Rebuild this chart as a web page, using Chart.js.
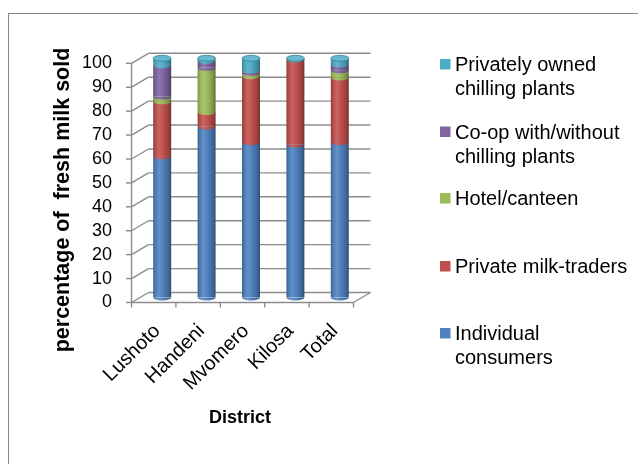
<!DOCTYPE html>
<html>
<head>
<meta charset="utf-8">
<script src="https://cdn.jsdelivr.net/npm/chart.js@4.4.1/dist/chart.umd.min.js"></script>
<style>
  html, body { margin: 0; padding: 0; background: #fff; }
  canvas { display: block; }
</style>
</head>
<body>
<canvas id="c" width="638" height="464"></canvas>
<script>
// Districts along the category axis
const districts = ['Lushoto', 'Handeni', 'Mvomero', 'Kilosa', 'Total'];

// Share of fresh milk sold (%) per outlet, stacked bottom to top
const individualConsumers   = [59, 71.5, 65, 64, 65];
const privateMilkTraders    = [23, 6, 27.5, 35.5, 27];
const hotelCanteen          = [2, 18.5, 1.5, 0, 3];
const coopChillingPlants    = [13, 3, 1, 0, 2.5];
const privateChillingPlants = [3, 1, 5, 0.5, 2.5];

const yTicks = [0, 10, 20, 30, 40, 50, 60, 70, 80, 90, 100];

const seriesNames = [
  'Individual consumers',
  'Private milk-traders',
  'Hotel/canteen',
  'Co-op with/without chilling plants',
  'Privately owned chilling plants'
];
const seriesValues = [individualConsumers, privateMilkTraders, hotelCanteen, coopChillingPlants, privateChillingPlants];
const seriesColors = ['#4F81BD', '#C0504D', '#9BBB59', '#8064A2', '#4BACC6'];

const yTitle = 'percentage of  fresh milk sold';
const xTitle = 'District';

const FONT = '"Liberation Sans", Arial, Helvetica, sans-serif';
Chart.defaults.font.family = FONT;

// depth offsets of the pseudo-3D box (front face vs. back wall)
const DX = 8.5, DY = 5, RY = 3;
const GRID = '#8c8c8c';
const CAT_PCT = 0.9, BAR_PCT = 0.45;

function rgb(hex) {
  const n = parseInt(hex.slice(1), 16);
  return [(n >> 16) & 255, (n >> 8) & 255, n & 255];
}
function shade(hex, f) {
  const c = rgb(hex).map(v => f >= 1 ? Math.round(v + (255 - v) * (f - 1)) : Math.round(v * f));
  return `rgb(${c[0]},${c[1]},${c[2]})`;
}
function cylinderGradient(ctx, x, w, hex) {
  const g = ctx.createLinearGradient(x - w / 2, 0, x + w / 2, 0);
  g.addColorStop(0, shade(hex, 0.75));
  g.addColorStop(0.12, shade(hex, 0.95));
  g.addColorStop(0.32, shade(hex, 1.12));
  g.addColorStop(0.55, shade(hex, 1.0));
  g.addColorStop(0.85, shade(hex, 0.8));
  g.addColorStop(1, shade(hex, 0.6));
  return g;
}
function barWidthFor(chart) {
  const xs = chart.scales.x;
  return xs.width / districts.length * CAT_PCT * BAR_PCT;
}

function line(ctx, x1, y1, x2, y2) {
  ctx.beginPath(); ctx.moveTo(x1, y1); ctx.lineTo(x2, y2); ctx.stroke();
}

// Walls, floor and grid of the 3-D box, drawn behind the columns
const box3d = {
  id: 'box3d',
  beforeDatasetsDraw(chart) {
    const { ctx, chartArea: a, scales: { y } } = chart;
    const fx = a.left - DX, bx = a.left + DX, rx = a.right + DX;
    ctx.save();
    ctx.strokeStyle = GRID;
    ctx.lineWidth = 1.4;
    yTicks.forEach(v => {
      const m = y.getPixelForValue(v);
      const fy = m + DY, by = m - DY;
      line(ctx, bx, by, rx, by);
      line(ctx, fx, fy, bx, by);
      line(ctx, fx - 5.5, fy, fx, fy);
    });
    const f0 = y.getPixelForValue(0) + DY;
    const f100 = y.getPixelForValue(100) + DY;
    line(ctx, fx, f0, fx, f100);
    const frx = a.right - DX;
    line(ctx, fx, f0, frx, f0);
    line(ctx, frx, f0, rx, f0 - 2 * DY);
    const step = (a.right - a.left) / districts.length;
    for (let k = 0; k <= districts.length; k++) {
      const xk = fx + k * step;
      line(ctx, xk, f0, xk, f0 + 5);
    }
    ctx.restore();
  },
  // Rounded cylinder bottoms, segment seams and top caps
  afterDatasetsDraw(chart) {
    const ctx = chart.ctx;
    ctx.save();
    for (let i = 0; i < districts.length; i++) {
      let top = null, topColor = null;
      chart.data.datasets.forEach((ds, d) => {
        if (!ds.data[i]) return;
        const el = chart.getDatasetMeta(d).data[i];
        const p = el.getProps(['x', 'y', 'base', 'width'], true);
        ctx.beginPath();
        ctx.ellipse(p.x, p.base, p.width / 2, RY, 0, 0, Math.PI);
        ctx.fillStyle = cylinderGradient(ctx, p.x, p.width, seriesColors[d]);
        ctx.fill();
        top = p; topColor = seriesColors[d];
      });
      if (top) {
        ctx.beginPath();
        ctx.ellipse(top.x, top.y, top.width / 2, RY, 0, 0, Math.PI * 2);
        ctx.fillStyle = shade(topColor, 1.15);
        ctx.fill();
        ctx.lineWidth = 0.8;
        ctx.strokeStyle = shade(topColor, 0.75);
        ctx.stroke();
      }
    }
    ctx.restore();
  },
  // Legend, axis titles and outer frame
  afterDraw(chart) {
    const ctx = chart.ctx;
    ctx.save();
    ctx.strokeStyle = '#878787';
    ctx.lineWidth = 1;
    ctx.strokeRect(8.5, 13.5, 700, 500);

    // legend, top of stack first
    const legendY = [64, 131.5, 198, 266, 333];
    ctx.font = '20px ' + FONT;
    ctx.fillStyle = '#000';
    ctx.textBaseline = 'alphabetic';
    ctx.textAlign = 'left';
    const order = [4, 3, 2, 1, 0];
    order.forEach((d, k) => {
      const cy = legendY[k];
      ctx.fillStyle = seriesColors[d];
      ctx.fillRect(440, cy - 5, 10.5, 10.5);
      ctx.fillStyle = '#000';
      const words = seriesNames[d].split(' ');
      const lines = [];
      let cur = '';
      words.forEach(w => {
        const t = cur ? cur + ' ' + w : w;
        if (ctx.measureText(t).width > 180 && cur) { lines.push(cur); cur = w; }
        else cur = t;
      });
      lines.push(cur);
      lines.forEach((ln, j) => ctx.fillText(ln, 455, cy + 7 + j * 24));
    });

    // axis titles
    ctx.font = 'bold 21.5px ' + FONT;
    ctx.textAlign = 'center';
    ctx.textBaseline = 'middle';
    ctx.save();
    ctx.translate(63, 200);
    ctx.rotate(-Math.PI / 2);
    ctx.fillText(yTitle, 0, 0);
    ctx.restore();
    ctx.font = 'bold 18px ' + FONT;
    ctx.fillText(xTitle, 240, 418);
    ctx.restore();
  }
};

new Chart(document.getElementById('c'), {
  type: 'bar',
  data: {
    labels: districts,
    datasets: seriesValues.map((vals, d) => ({
      label: seriesNames[d],
      data: vals,
      backgroundColor: (c) => {
        const chart = c.chart;
        if (!chart.chartArea || c.dataIndex === undefined) return seriesColors[d];
        const x = chart.scales.x.getPixelForValue(c.dataIndex);
        return cylinderGradient(chart.ctx, x, barWidthFor(chart), seriesColors[d]);
      },
      borderWidth: 0,
      categoryPercentage: CAT_PCT,
      barPercentage: BAR_PCT
    }))
  },
  options: {
    responsive: false,
    animation: false,
    devicePixelRatio: 1,
    layout: { padding: { left: 0, right: 276, top: 58.3, bottom: 0 } },
    plugins: { legend: { display: false }, tooltip: { enabled: false } },
    scales: {
      x: {
        stacked: true,
        grid: { display: false, drawTicks: false },
        border: { display: false },
        ticks: {
          color: '#000',
          font: { size: 20 },
          minRotation: 45, maxRotation: 45,
          autoSkip: false,
          padding: 22,
          labelOffset: -5
        },
        afterFit(s) { s.height = 464 - 297.5; }
      },
      y: {
        stacked: true,
        min: 0, max: 100,
        grid: { display: false, drawTicks: false },
        border: { display: false },
        ticks: {
          color: '#000',
          font: { size: 18 },
          stepSize: 10,
          autoSkip: false,
          padding: 28,
          labelOffset: 5
        },
        afterFit(s) { s.width = 140; }
      }
    }
  },
  plugins: [box3d]
});
</script>
</body>
</html>
